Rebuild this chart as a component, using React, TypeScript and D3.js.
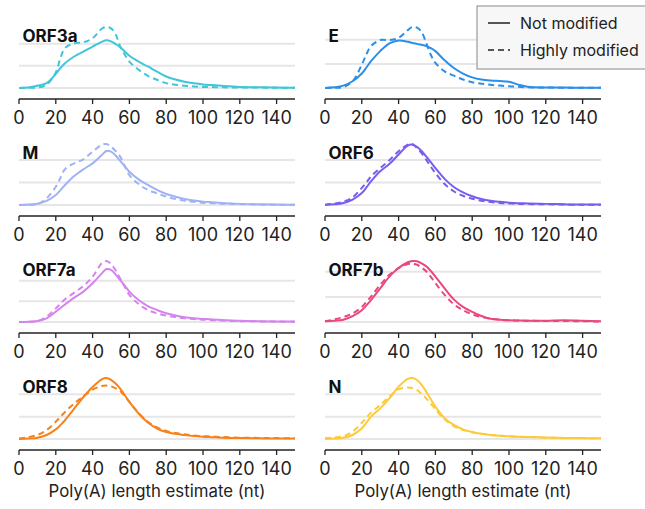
import React from "react";
import * as d3 from "d3";

const X = [0,5,10,15,20,22.5,25,30,35,40,45,47.5,50,52.5,55,57.5,60,65,70,75,80,85,90,95,100,105,110,120,130,140,150];

const genes = ["ORF3a","E","M","ORF6","ORF7a","ORF7b","ORF8","N"];
const colors = ["#3fc7d9","#2b8ee8","#a0b2f7","#7a5cef","#d584ee","#e9477f","#f7821c","#fdca39"];

const ORF3a_not = [0,0.02,0.1,0.22,0.64,0.9,1.12,1.42,1.64,1.87,2.08,2.15,2.1,1.98,1.84,1.65,1.45,1.19,0.97,0.74,0.52,0.38,0.28,0.21,0.16,0.13,0.1,0.05,0.03,0.02,0.01];
const ORF3a_high = [0,0.01,0.02,0.15,0.7,1.35,1.8,2.02,2.06,2.24,2.67,2.75,2.69,2.42,1.87,1.5,1.19,0.82,0.55,0.37,0.22,0.15,0.1,0.07,0.05,0.04,0.03,0.02,0.02,0.01,0.01];
const E_not = [0,0.03,0.1,0.28,0.6,0.85,1.11,1.53,1.85,1.97,1.92,1.87,1.83,1.79,1.74,1.65,1.53,1.15,0.83,0.6,0.44,0.35,0.31,0.29,0.26,0.14,0.05,0.02,0.02,0.01,0.01];
const E_high = [0,0.01,0.04,0.28,0.97,1.4,1.74,1.99,1.99,2.08,2.4,2.53,2.5,2.32,1.87,1.38,1.04,0.69,0.51,0.35,0.24,0.18,0.13,0.1,0.07,0.05,0.03,0.02,0.01,0.01,0.01];
const M_not = [0,0.02,0.06,0.18,0.44,0.66,0.89,1.29,1.59,1.85,2.22,2.4,2.37,2.2,1.96,1.72,1.48,1.14,0.89,0.67,0.49,0.37,0.27,0.2,0.15,0.12,0.09,0.05,0.03,0.02,0.01];
const M_high = [0,0.01,0.04,0.3,0.81,1.2,1.59,1.85,2.03,2.37,2.67,2.71,2.59,2.4,2.15,1.72,1.33,0.93,0.67,0.52,0.37,0.27,0.19,0.14,0.1,0.08,0.06,0.04,0.02,0.01,0.01];
const ORF6_not = [0,0.03,0.09,0.24,0.53,0.78,1.05,1.5,1.82,2.24,2.64,2.68,2.58,2.4,2.16,1.9,1.64,1.16,0.8,0.56,0.39,0.27,0.19,0.14,0.1,0.08,0.07,0.05,0.03,0.02,0.02];
const ORF6_high = [0.01,0.06,0.15,0.34,0.76,1.0,1.27,1.64,1.99,2.39,2.68,2.71,2.53,2.3,2.01,1.7,1.42,0.93,0.61,0.41,0.28,0.19,0.13,0.09,0.07,0.05,0.04,0.03,0.02,0.01,0.01];
const ORF7a_not = [0,0.01,0.05,0.18,0.5,0.68,0.85,1.18,1.47,1.87,2.35,2.56,2.52,2.3,2.03,1.75,1.47,1.06,0.77,0.58,0.42,0.31,0.23,0.18,0.15,0.12,0.1,0.06,0.04,0.03,0.02];
const ORF7a_high = [0,0.01,0.04,0.26,0.66,0.88,1.1,1.42,1.74,2.19,2.84,2.95,2.81,2.5,2.1,1.7,1.31,0.87,0.58,0.42,0.31,0.24,0.18,0.14,0.11,0.09,0.07,0.04,0.03,0.02,0.01];
const ORF7b_not = [0.03,0.05,0.09,0.23,0.47,0.66,0.87,1.34,1.81,2.15,2.38,2.43,2.42,2.34,2.22,2.03,1.81,1.34,0.9,0.6,0.4,0.24,0.13,0.09,0.07,0.06,0.05,0.05,0.07,0.05,0.03];
const ORF7b_high = [0.03,0.1,0.2,0.34,0.6,0.8,1.01,1.48,1.88,2.15,2.31,2.32,2.28,2.17,2.02,1.8,1.55,1.08,0.71,0.47,0.31,0.2,0.13,0.09,0.07,0.06,0.05,0.04,0.04,0.03,0.02];
const ORF8_not = [0,0.02,0.06,0.18,0.43,0.62,0.84,1.36,1.88,2.33,2.67,2.73,2.65,2.48,2.25,1.96,1.66,1.14,0.74,0.47,0.31,0.23,0.18,0.13,0.1,0.08,0.06,0.04,0.03,0.02,0.02];
const ORF8_high = [0.02,0.08,0.18,0.4,0.77,0.99,1.21,1.59,1.91,2.21,2.37,2.39,2.36,2.27,2.15,1.92,1.66,1.17,0.77,0.52,0.36,0.27,0.21,0.16,0.13,0.11,0.09,0.06,0.05,0.04,0.03];
const N_not = [0,0.02,0.06,0.18,0.48,0.73,1.0,1.37,1.82,2.34,2.69,2.73,2.64,2.42,2.12,1.78,1.45,0.93,0.63,0.43,0.31,0.23,0.18,0.15,0.12,0.1,0.09,0.07,0.05,0.04,0.03];
const N_high = [0.04,0.07,0.13,0.33,0.73,0.95,1.18,1.52,1.9,2.22,2.31,2.28,2.19,2.02,1.82,1.58,1.33,0.88,0.58,0.4,0.3,0.23,0.18,0.15,0.12,0.1,0.09,0.06,0.05,0.04,0.03];

const notModified = [ORF3a_not, E_not, M_not, ORF6_not, ORF7a_not, ORF7b_not, ORF8_not, N_not];
const highlyModified = [ORF3a_high, E_high, M_high, ORF6_high, ORF7a_high, ORF7b_high, ORF8_high, N_high];

const xTicks = [0,20,40,60,80,100,120,140];
const gridValues = [0,1,2];
const legendLabels = ["Not modified","Highly modified"];
const xLabel = "Poly(A) length estimate (nt)";

const FONT = "Inter, 'Noto Sans', sans-serif";

function Panel({ idx }: { idx: number }) {
  const col = idx % 2;
  const row = Math.floor(idx / 2);
  const left = col === 0 ? 19 : 325;
  const right = left + 276;
  const axisY = 99 + row * 117;
  const baseY = axisY - 11;
  const x = d3.scaleLinear().domain([0, 150]).range([left, right]);
  const a = notModified[idx];
  const b = highlyModified[idx];
  const maxV = Math.max(d3.max(a) as number, d3.max(b) as number);
  const y = d3.scaleLinear().domain([0, maxV]).range([baseY, baseY - 61]);
  const line = d3
    .line<number>()
    .x((_, i) => x(X[i]))
    .y((v) => y(v))
    .curve(d3.curveCatmullRom.alpha(0.5));
  const color = colors[idx];
  return (
    <g>
      {gridValues.map((g) => (
        <line key={g} x1={left} x2={right} y1={y(g)} y2={y(g)} stroke="#e6e6e6" strokeWidth={2} />
      ))}
      <text x={left + 3.5} y={axisY - 57} fontFamily={FONT} fontWeight={700} fontSize={17} fill="#111">
        {genes[idx]}
      </text>
      <path d={line(b) || ""} fill="none" stroke={color} strokeWidth={2} strokeDasharray="6 4" />
      <path d={line(a) || ""} fill="none" stroke={color} strokeWidth={2} />
      <line x1={left} x2={right} y1={axisY} y2={axisY} stroke="#222" strokeWidth={1.3} />
      {xTicks.map((t) => (
        <g key={t}>
          <line x1={x(t)} x2={x(t)} y1={axisY} y2={axisY + 5} stroke="#222" strokeWidth={1.3} />
          <text x={x(t)} y={axisY + 24.5} textAnchor="middle" fontFamily={FONT} fontSize={18} fill="#222">
            {t}
          </text>
        </g>
      ))}
      {row === 3 && (
        <text x={(left + right) / 2} y={axisY + 47} textAnchor="middle" fontFamily={FONT} fontSize={16.8} fill="#222">
          {xLabel}
        </text>
      )}
    </g>
  );
}

export default function App() {
  return (
    <svg width={645} height={509} style={{ position: "absolute", left: 0, top: 0 }}>
      <rect width={645} height={509} fill="#fff" />
      {genes.map((_, i) => (
        <Panel key={i} idx={i} />
      ))}
      <g>
        <rect x={477} y={6} width={175} height={63} fill="#f7f7f7" stroke="#888" strokeWidth={1} />
        {legendLabels.map((l, i) => (
          <g key={l}>
            <line x1={488} x2={510} y1={23 + i * 27} y2={23 + i * 27} stroke="#555" strokeWidth={2} strokeDasharray={i === 1 ? "6 4" : undefined} />
            <text x={520} y={29 + i * 27} fontFamily={FONT} fontSize={16} fill="#222">
              {l}
            </text>
          </g>
        ))}
      </g>
    </svg>
  );
}
